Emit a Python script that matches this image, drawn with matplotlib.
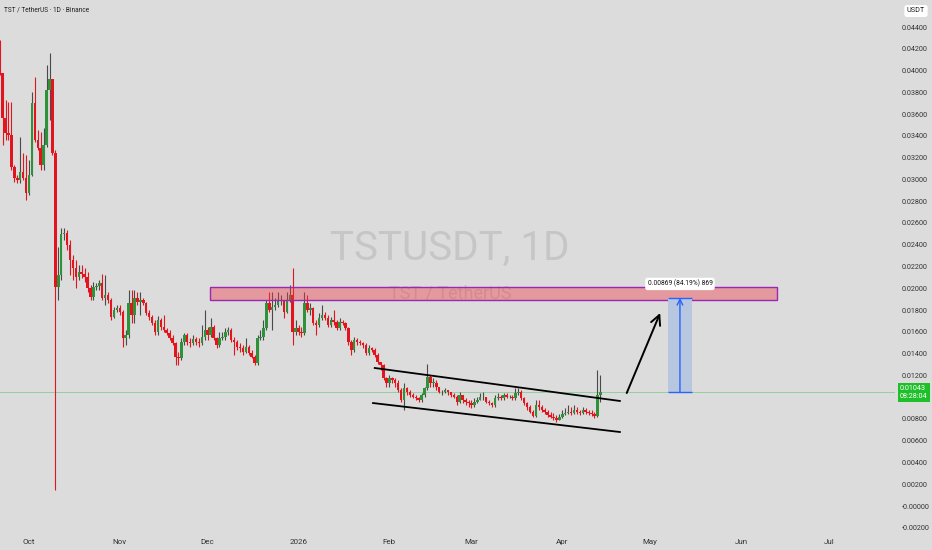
import numpy as np
import pandas as pd
import matplotlib
matplotlib.use("Agg")
import matplotlib.pyplot as plt
import matplotlib.dates as mdates
from matplotlib.patches import Rectangle
from matplotlib import font_manager as fm

# daily candles TST/USDT from 2025-09-21
first_open = 0.04253
closes = [
    0.03978, 0.03564, 0.03426, 0.03408, 0.03114, 0.03013, 0.02995, 0.03068, 0.03013, 0.02875,
    0.03041, 0.03702, 0.03362, 0.03289, 0.03132, 0.03316, 0.03821, 0.03922, 0.03243, 0.02012,
    0.02122, 0.02499, 0.02508, 0.02398, 0.02260, 0.02186, 0.02104, 0.02150, 0.02131, 0.02104,
    0.02003, 0.01920, 0.02012, 0.02021, 0.02049, 0.01911, 0.01938, 0.01892, 0.01736, 0.01800,
    0.01819, 0.01782, 0.01543, 0.01571, 0.01865, 0.01755, 0.01911, 0.01874, 0.01892, 0.01865,
    0.01773, 0.01736, 0.01681, 0.01598, 0.01709, 0.01644, 0.01617, 0.01589, 0.01543, 0.01497,
    0.01369, 0.01360, 0.01507, 0.01571, 0.01507, 0.01497, 0.01534, 0.01507, 0.01497, 0.01552,
    0.01617, 0.01571, 0.01644, 0.01543, 0.01479, 0.01543, 0.01552, 0.01598, 0.01617, 0.01525,
    0.01507, 0.01461, 0.01451, 0.01415, 0.01461, 0.01405, 0.01369, 0.01314, 0.01543, 0.01552,
    0.01635, 0.01865, 0.01800, 0.01828, 0.01846, 0.01892, 0.01892, 0.01782, 0.01892, 0.01938,
    0.01598, 0.01635, 0.01598, 0.01589, 0.01865, 0.01800, 0.01819, 0.01681, 0.01663, 0.01727,
    0.01755, 0.01727, 0.01663, 0.01709, 0.01690, 0.01635, 0.01690, 0.01681, 0.01635, 0.01507,
    0.01433, 0.01525, 0.01507, 0.01497, 0.01479, 0.01405, 0.01451, 0.01433, 0.01387, 0.01323,
    0.01295, 0.01176, 0.01130, 0.01176, 0.01157, 0.01130, 0.01066, 0.00974, 0.01084, 0.01047,
    0.01020, 0.01001, 0.00992, 0.00974, 0.01020, 0.01084, 0.01185, 0.01130, 0.01130, 0.01093,
    0.01047, 0.01047, 0.01066, 0.01047, 0.01020, 0.01001, 0.00955, 0.01020, 0.00974, 0.00955,
    0.00946, 0.00928, 0.00955, 0.00974, 0.01001, 0.01001, 0.00955, 0.00946, 0.00928, 0.00992,
    0.01001, 0.00992, 0.01020, 0.01001, 0.01001, 0.00992, 0.01038, 0.01047, 0.00992, 0.00946,
    0.00909, 0.00864, 0.00827, 0.00928, 0.00909, 0.00882, 0.00864, 0.00836, 0.00818, 0.00808,
    0.00790, 0.00818, 0.00845, 0.00854, 0.00864, 0.00854, 0.00882, 0.00864, 0.00854, 0.00882,
    0.00864, 0.00854, 0.00845, 0.00827, 0.01020, 0.01043,
]
highs = [
    0.04281, 0.03978, 0.03730, 0.03711, 0.03711, 0.03132, 0.03041, 0.03390, 0.03243, 0.03224,
    0.03178, 0.03803, 0.03941, 0.03454, 0.03436, 0.03472, 0.04051, 0.04161, 0.03730, 0.03270,
    0.02379, 0.02554, 0.02554, 0.02535, 0.02443, 0.02306, 0.02260, 0.02214, 0.02214, 0.02186,
    0.02150, 0.02030, 0.02058, 0.02049, 0.02076, 0.02131, 0.02122, 0.01966, 0.01911, 0.01828,
    0.01846, 0.01846, 0.01800, 0.01617, 0.01984, 0.01984, 0.01984, 0.01966, 0.01966, 0.01911,
    0.01874, 0.01800, 0.01755, 0.01709, 0.01745, 0.01727, 0.01755, 0.01635, 0.01617, 0.01571,
    0.01507, 0.01415, 0.01543, 0.01589, 0.01589, 0.01543, 0.01571, 0.01552, 0.01543, 0.01663,
    0.01800, 0.01644, 0.01727, 0.01663, 0.01552, 0.01598, 0.01598, 0.01635, 0.01644, 0.01635,
    0.01552, 0.01525, 0.01497, 0.01479, 0.01543, 0.01479, 0.01433, 0.01387, 0.01571, 0.01617,
    0.01709, 0.01892, 0.01966, 0.01966, 0.01911, 0.01966, 0.01938, 0.01892, 0.01966, 0.02030,
    0.02186, 0.01709, 0.01663, 0.01644, 0.01966, 0.01938, 0.01865, 0.01828, 0.01709, 0.01773,
    0.01846, 0.01782, 0.01755, 0.01736, 0.01800, 0.01709, 0.01727, 0.01709, 0.01690, 0.01644,
    0.01525, 0.01552, 0.01543, 0.01525, 0.01507, 0.01497, 0.01479, 0.01461, 0.01451, 0.01405,
    0.01323, 0.01304, 0.01185, 0.01203, 0.01185, 0.01176, 0.01157, 0.01084, 0.01130, 0.01093,
    0.01066, 0.01038, 0.01020, 0.01001, 0.01038, 0.01093, 0.01304, 0.01203, 0.01176, 0.01157,
    0.01093, 0.01066, 0.01084, 0.01066, 0.01047, 0.01038, 0.01020, 0.01047, 0.01020, 0.00992,
    0.00974, 0.00974, 0.00992, 0.01001, 0.01038, 0.01047, 0.01001, 0.00974, 0.00955, 0.01020,
    0.01038, 0.01020, 0.01038, 0.01038, 0.01020, 0.01020, 0.01084, 0.01084, 0.01066, 0.01001,
    0.00955, 0.00928, 0.00882, 0.00974, 0.00974, 0.00928, 0.00900, 0.00882, 0.00864, 0.00854,
    0.00836, 0.00845, 0.00882, 0.00900, 0.00928, 0.00909, 0.00928, 0.00909, 0.00882, 0.00909,
    0.00900, 0.00882, 0.00882, 0.00864, 0.01249, 0.01203,
]
lows = [
    0.03960, 0.03316, 0.03362, 0.03362, 0.03087, 0.02976, 0.02967, 0.02967, 0.02995, 0.02811,
    0.02857, 0.03031, 0.03344, 0.03270, 0.03087, 0.03087, 0.03298, 0.03546, 0.03224, 0.00147,
    0.01892, 0.02076, 0.02443, 0.02352, 0.02122, 0.02076, 0.02003, 0.02076, 0.02094, 0.02058,
    0.01966, 0.01892, 0.01892, 0.01984, 0.01984, 0.01892, 0.01846, 0.01865, 0.01709, 0.01727,
    0.01782, 0.01755, 0.01461, 0.01479, 0.01543, 0.01681, 0.01681, 0.01846, 0.01755, 0.01846,
    0.01755, 0.01709, 0.01663, 0.01571, 0.01571, 0.01617, 0.01598, 0.01571, 0.01525, 0.01479,
    0.01295, 0.01295, 0.01341, 0.01479, 0.01479, 0.01461, 0.01479, 0.01479, 0.01461, 0.01479,
    0.01525, 0.01525, 0.01552, 0.01525, 0.01451, 0.01461, 0.01525, 0.01525, 0.01571, 0.01507,
    0.01387, 0.01433, 0.01415, 0.01387, 0.01405, 0.01387, 0.01360, 0.01295, 0.01295, 0.01525,
    0.01525, 0.01617, 0.01782, 0.01617, 0.01800, 0.01828, 0.01846, 0.01727, 0.01773, 0.01874,
    0.01479, 0.01571, 0.01571, 0.01552, 0.01571, 0.01782, 0.01755, 0.01663, 0.01571, 0.01644,
    0.01709, 0.01709, 0.01644, 0.01644, 0.01663, 0.01617, 0.01617, 0.01663, 0.01617, 0.01479,
    0.01387, 0.01415, 0.01479, 0.01479, 0.01451, 0.01387, 0.01387, 0.01415, 0.01369, 0.01304,
    0.01249, 0.01157, 0.01093, 0.01093, 0.01130, 0.01093, 0.01047, 0.00955, 0.00882, 0.01020,
    0.01001, 0.00992, 0.00974, 0.00955, 0.00955, 0.01001, 0.01066, 0.01093, 0.01093, 0.01066,
    0.01038, 0.01020, 0.01038, 0.01020, 0.01001, 0.00992, 0.00928, 0.00946, 0.00946, 0.00928,
    0.00909, 0.00900, 0.00909, 0.00946, 0.00974, 0.00974, 0.00946, 0.00928, 0.00909, 0.00909,
    0.00974, 0.00974, 0.00974, 0.00992, 0.00992, 0.00974, 0.00974, 0.01020, 0.00974, 0.00928,
    0.00882, 0.00854, 0.00818, 0.00818, 0.00882, 0.00864, 0.00845, 0.00818, 0.00808, 0.00790,
    0.00772, 0.00790, 0.00808, 0.00836, 0.00845, 0.00836, 0.00845, 0.00845, 0.00836, 0.00845,
    0.00845, 0.00836, 0.00827, 0.00808, 0.00818, 0.00955,
]
start_day = "2025-09-21"
last_price = 0.01043
countdown = "08:28:04"

month_ticks = ["2025-10-01", "2025-11-01", "2025-12-01", "2026-01-01", "2026-02-01",
               "2026-03-01", "2026-04-01", "2026-05-01", "2026-06-01", "2026-07-01"]
month_labels = ["Oct", "Nov", "Dec", "2026", "Feb", "Mar", "Apr", "May", "Jun", "Jul"]

price_ticks = [-0.002 + 0.002 * i for i in range(24)]
price_labels = ["-0.00200", "-0.00000"] + ["%.5f" % v for v in price_ticks[2:]]
price_labels[6] = ""  # 0.01000 sits under the last-price tag

# drawings on the chart
zone_start, zone_end = "2025-12-01 20:00", "2026-06-13 08:00"
zone_low, zone_high = 0.01892, 0.02012
measure_start, measure_end = "2026-05-07", "2026-05-15 08:00"
target_price = 0.01912
measure_text = "0.00869 (84.19%) 869"
upper_channel = (["2026-01-27", "2026-04-20 16:00"], [0.01268, 0.00965])
lower_channel = (["2026-01-26 10:00", "2026-04-20 16:00"], [0.00946, 0.00680])
arrow_from = ("2026-04-23", 0.01038)
arrow_to = ("2026-05-04 10:00", 0.01773)

names = {f.name for f in fm.fontManager.ttflist}
narrow = "Liberation Sans Narrow" if "Liberation Sans Narrow" in names else "Roboto"
plt.rcParams["font.family"] = [narrow, "DejaVu Sans"]

bg = "#dcdcdc"
up_col, down_col = "#2e9338", "#e3141e"

fig = plt.figure(figsize=(9.32, 5.5), dpi=100)
fig.patch.set_facecolor(bg)
ax = fig.add_axes([0, 15 / 550, 895 / 932, 535 / 550])
ax.set_facecolor(bg)

d = lambda s: mdates.date2num(pd.Timestamp(s))
n = len(closes)
dates = mdates.date2num(pd.date_range(start_day, periods=n))
c = np.array(closes)
o = np.array([first_open] + closes[:-1])
h = np.array(highs)
l = np.array(lows)
up = c >= o

ax.axhline(last_price, color="#93cf9f", lw=0.7, zorder=1)
ax.vlines(dates, l, h, colors=np.where(up, "#4a4a4a", down_col), lw=0.8, zorder=2)
ax.bar(dates, np.maximum(np.abs(c - o), 0.00005), bottom=np.minimum(o, c), width=0.85,
       color=np.where(up, up_col, down_col), lw=0, zorder=3)

# watermark
ax.text(0.503, 0.535, "TSTUSDT, 1D", transform=ax.transAxes, ha="center", va="center",
        fontsize=29, color="#c6c6c6", zorder=0)
ax.text(0.503, 0.452, "TST / TetherUS", transform=ax.transAxes, ha="center", va="center",
        fontsize=13, color="#c2c2c2", zorder=0)

# resistance zone
ax.add_patch(Rectangle((d(zone_start), zone_low), d(zone_end) - d(zone_start), zone_high - zone_low,
                       facecolor=(0.95, 0.21, 0.27, 0.4), edgecolor="#9c27b0", lw=1.0, zorder=4))

# measure box
m0, m1 = d(measure_start), d(measure_end)
mid = (m0 + m1) / 2
ax.add_patch(Rectangle((m0, last_price), m1 - m0, target_price - last_price,
                       facecolor="#b6c7df", edgecolor="none", zorder=4))
ax.hlines([last_price, target_price], m0, m1, colors="#2962ff", lw=1.0, zorder=5)
ax.annotate("", xy=(mid, target_price), xytext=(mid, last_price),
            arrowprops=dict(arrowstyle="->", color="#2962ff", lw=1.0, shrinkA=0, shrinkB=0), zorder=5)
ax.text(mid, 0.02040, measure_text, ha="center", va="center", fontsize=4.8, color="#111",
        bbox=dict(boxstyle="round,pad=0.35", fc="white", ec="none"), zorder=6)

# falling channel and projection arrow
ax.plot([d(x) for x in upper_channel[0]], upper_channel[1], color="black", lw=1.3, zorder=5)
ax.plot([d(x) for x in lower_channel[0]], lower_channel[1], color="black", lw=1.3, zorder=5)
ax.annotate("", xy=(d(arrow_to[0]), arrow_to[1]), xytext=(d(arrow_from[0]), arrow_from[1]),
            arrowprops=dict(arrowstyle="->,head_length=0.7,head_width=0.35", color="black", lw=1.4,
                            shrinkA=0, shrinkB=0), zorder=5)

x_left = d("2025-10-01") - 29 / 2.93
ax.set_xlim(x_left, x_left + 895 / 2.93)
ax.set_ylim(-0.00266, 0.04648)

ax.set_xticks([d(t) for t in month_ticks])
ax.set_xticklabels(month_labels)
ax.yaxis.tick_right()
ax.set_yticks(price_ticks)
ax.set_yticklabels(price_labels)
ax.tick_params(axis="x", length=0, pad=3, labelsize=5.8, colors="#333333")
ax.tick_params(axis="y", length=0, pad=5, labelsize=5.2, colors="#333333")
for s in ax.spines.values():
    s.set_visible(False)

# price label and header
ax.annotate(f"{last_price:.5f}\n{countdown}", xy=(1.0, last_price), xycoords=("axes fraction", "data"),
            xytext=(3.5, 0), textcoords="offset points", ha="left", va="center", fontsize=5.2,
            color="white", linespacing=1.1,
            bbox=dict(boxstyle="square,pad=0.3", fc="#1fbf2a", ec="none"), annotation_clip=False)
fig.text(916 / 932, 1 - 11 / 550, "USDT", ha="center", va="center", fontsize=5.2, color="#222",
         bbox=dict(boxstyle="round,pad=0.35", fc="white", ec="none"))
fig.text(4 / 932, 1 - 10 / 550, "TST / TetherUS · 1D · Binance", ha="left", va="center",
         fontsize=4.7, color="#222222")

fig.savefig("out.png", dpi=100, facecolor=bg)
